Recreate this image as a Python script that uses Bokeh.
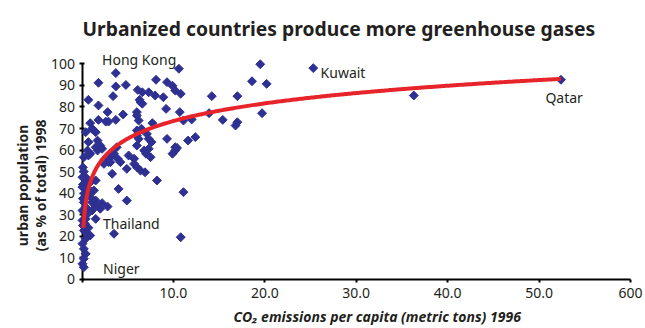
import numpy as np
from bokeh.plotting import figure
from bokeh.models import Range1d, FixedTicker, ColumnDataSource
from bokeh.core.properties import value
from bokeh.embed import file_html
from bokeh.resources import INLINE

# CO2 emissions per capita (metric tons) 1996
co2 = [3.7, 1.8, 3.7, 4.8, 8.1, 9.3, 9.9, 10.2, 10.8, 6.1, 6.6, 7.3, 3.4, 0.7, 8.0, 8.9, 6.3, 6.4, 6.6, 1.8,
       9.2, 2.8, 4.5, 6.0, 6.0, 6.2, 1.8, 2.6, 2.9, 3.7, 0.9, 1.1, 1.3, 7.7, 10.7, 6.5, 10.6, 14.2, 12.0, 15.4,
       0.4, 0.7, 0.6, 0.9, 1.7, 1.7, 2.0, 2.2, 6.0, 6.0, 6.2, 7.1, 7.3, 7.6, 9.3, 10.2, 3.8, 3.5, 3.1, 3.9,
       4.2, 2.8, 3.1, 5.7, 6.0, 6.4, 6.8, 7.0, 7.5, 4.9, 3.3, 8.2, 0.4, 0.6,
       1.5, 1.5, 0.7, 0.2, 6.0, 7.3, 10.2, 9.9, 5.1, 5.7, 2.9, 2.4, 6.9, 4.0, 4.9, 11.1, 0.05, 0.9, 0.05, 0.7,
       1.3, 0.4, 0.9, 1.5, 0.2, 2.2, 1.5,
       2.8, 0.05, 0.6, 1.5, 1.1, 0.05, 0.4, 0.1, 0.2, 0.6, 0.9, 0.4, 0.05, 0.2, 0.4, 0.2, 0.05, 0.2, 3.5, 10.8,
       0.9, 1.1, 2.0, 1.5, 0.4, 0.1, 0.2, 0.1, 0.3, 0.1, 0.5, 0.3, 0.7,
       19.5, 18.6, 20.2, 17.0, 11.1, 13.9, 17.0, 16.8, 19.7, 11.6, 12.4, 10.4, 25.3, 36.3, 52.4]
# urban population (as % of total) 1998
urban = [95.7, 91.2, 89.5, 90.2, 92.6, 91.5, 89.8, 87.6, 86.1, 87.9, 86.8, 86.8, 85.0, 83.3, 85.3, 84.5, 83.3, 82.2, 81.5, 80.7,
         79.1, 77.6, 76.5, 77.6, 76.0, 73.7, 74.0, 73.2, 73.2, 74.0, 72.5, 69.9, 69.1, 72.5, 77.6, 69.9, 97.7, 85.0, 74.2, 74.0,
         68.3, 63.7, 59.8, 58.3, 59.8, 64.4, 62.1, 60.6, 69.1, 66.8, 65.2, 67.5, 65.2, 63.7, 65.2, 59.8, 61.3, 58.3, 56.7, 56.0,
         54.4, 56.0, 54.4, 53.6, 52.1, 50.5, 59.8, 58.3, 56.7, 51.3, 49.0, 45.9, 47.4, 45.1,
         68.3, 61.3, 57.5, 56.7, 62.1, 60.6, 61.3, 58.3, 57.5, 56.0, 54.4, 53.6, 49.7, 42.0, 36.6, 40.5, 47.4, 45.1, 42.8, 42.0,
         41.3, 38.9, 38.2, 36.6, 35.8, 35.4, 45.9,
         33.8, 32.0, 32.8, 34.3, 35.8, 27.4, 28.1, 25.0, 22.7, 21.2, 20.4, 18.9, 16.6, 14.2, 11.9, 9.6, 7.3, 5.7, 21.2, 19.6,
         39.7, 32.0, 32.8, 28.1, 21.9, 52.0, 50.0, 44.0, 40.0, 37.5, 30.0, 26.0, 24.0,
         99.8, 91.9, 90.7, 85.0, 73.7, 77.1, 72.9, 71.4, 77.1, 64.4, 66.0, 61.0, 98.0, 85.3, 92.6]

# logarithmic trend line: urban = a + b * ln(co2)
trend_a = 46.3
trend_b = 11.8
trend_x_min = 0.15
trend_x_max = 52.4

country_names = ["Hong Kong", "Kuwait", "Qatar", "Thailand", "Niger"]
label_x = [2.2, 26.1, 50.7, 2.3, 2.3]
label_y = [102.0, 95.9, 84.4, 25.9, 5.1]

x_ticks = [0, 10, 20, 30, 40, 50, 60]
x_tick_labels = ["", "10.0", "20.0", "30.0", "40.0", "50.0", "600"]
y_ticks = [0, 10, 20, 30, 40, 50, 60, 70, 80, 90, 100]

title_text = "Urbanized countries produce more greenhouse gases"
y_label_lines = ["urban population", "(as % of total) 1998"]
x_label_text = "CO\u2082 emissions per capita (metric tons) 1996"

FONT = "Noto Sans"
TXT = "#231f20"

# the frame fills the whole canvas; axes are pinned at 0 so that titles can be
# placed around them in data space
p = figure(width=645, height=328, output_backend="svg", toolbar_location=None, title=None,
           x_range=Range1d(-8.917, 61.65), y_range=Range1d(-22.72, 129.35),
           min_border_left=0, min_border_right=0, min_border_top=0, min_border_bottom=0)
p.outline_line_color = None
p.grid.visible = False
p.background_fill_color = "white"

xa = p.xaxis[0]
xa.ticker = FixedTicker(ticks=x_ticks)
xa.major_label_overrides = {t: l for t, l in zip(x_ticks, x_tick_labels)}
xa.bounds = (0, 60)
xa.fixed_location = 0
ya = p.yaxis[0]
ya.ticker = FixedTicker(ticks=y_ticks)
ya.bounds = (0, 100)
ya.fixed_location = 0
for ax in (xa, ya):
    ax.axis_line_width = 2
    ax.axis_line_color = "black"
    ax.major_tick_line_color = "black"
    ax.major_tick_line_width = 2
    ax.minor_tick_line_color = None
    ax.major_label_text_font = FONT
    ax.major_label_text_font_size = "14px"
    ax.major_label_text_color = TXT
xa.major_tick_out = 3
xa.major_tick_in = 0
xa.major_label_standoff = 6
ya.major_tick_out = 3
ya.major_tick_in = 2
ya.major_label_standoff = 4

src = ColumnDataSource(dict(x=co2, y=urban))
p.scatter("x", "y", source=src, marker="square", size=6.3, angle=np.pi / 4,
          fill_color="#2e3192", line_color="#2e3192", line_width=1, level="overlay")

tx = np.linspace(trend_x_min, trend_x_max, 300)
ty = trend_a + trend_b * np.log(tx)
p.line(tx, ty, line_color="#e8242b", line_width=4, level="overlay")

lsrc = ColumnDataSource(dict(x=label_x, y=label_y, t=country_names))
p.text("x", "y", text="t", source=lsrc, text_font=value(FONT), text_font_size="14px",
       text_color=TXT, text_align="left", text_baseline="middle", level="overlay")

# chart title
p.text(x=[28.1], y=[116.6], text=[title_text], text_font=value(FONT), text_font_size="19.3px",
       text_font_style="bold", text_color=TXT, text_align="center", text_baseline="alphabetic")
# y axis title (two lines, rotated)
p.text(x=[-6.5, -4.55], y=[43.6, 43.6], text=y_label_lines, angle=np.pi / 2,
       text_font=value(FONT), text_font_size="14px", text_font_style="bold", text_color=TXT,
       text_align="center", text_baseline="middle")
# x axis title
p.text(x=[32.3], y=[-17.0], text=[x_label_text], text_font=value(FONT), text_font_size="14px",
       text_font_style="bold italic", text_color=TXT, text_align="center", text_baseline="middle")

open("out.html", "w").write(file_html(p, INLINE))
